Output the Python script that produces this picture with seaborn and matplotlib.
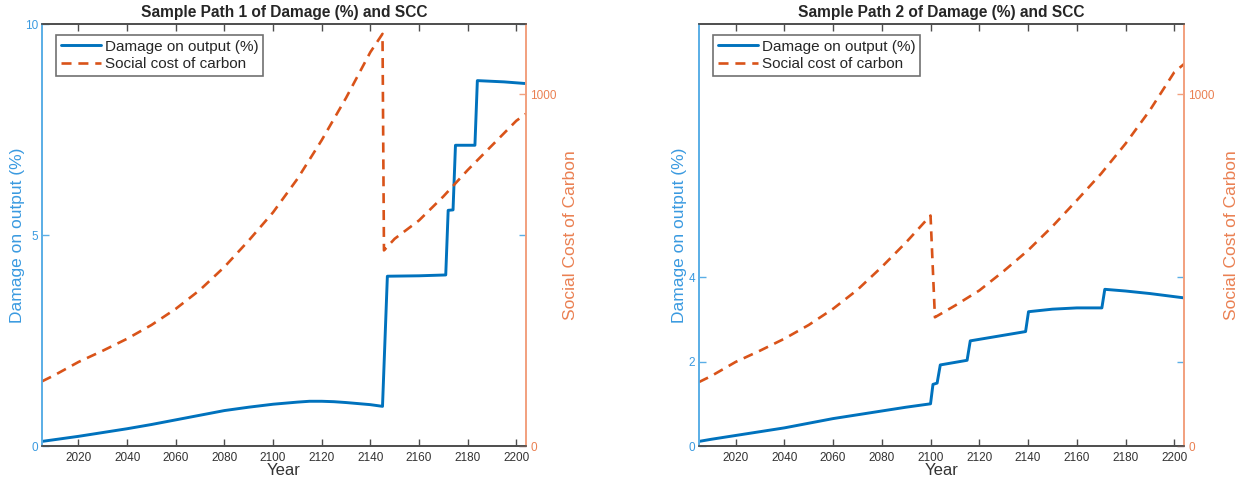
import matplotlib
matplotlib.use("Agg")
import matplotlib.pyplot as plt
import seaborn as sns
import pandas as pd

sns.set_style("ticks")
plt.rcParams['font.family'] = ['Liberation Sans', 'DejaVu Sans']

# ---------------- data ----------------
# Sample path 1
p1_dmg_years = [2005, 2010, 2020, 2030, 2040, 2050, 2060, 2070, 2080, 2090, 2100, 2110,
                2115, 2120, 2125, 2130, 2140, 2145, 2147, 2160, 2171, 2172, 2174, 2175,
                2183, 2184, 2195, 2204]
p1_dmg = [0.12, 0.16, 0.24, 0.33, 0.42, 0.52, 0.63, 0.74, 0.85, 0.93, 1.00, 1.05,
          1.07, 1.07, 1.06, 1.04, 0.99, 0.95, 4.03, 4.04, 4.06, 5.59, 5.60, 7.13,
          7.13, 8.66, 8.63, 8.59]
p1_scc_years = [2005, 2010, 2020, 2030, 2040, 2050, 2060, 2070, 2080, 2090, 2100, 2110,
                2120, 2130, 2140, 2145, 2145.6, 2150, 2160, 2170, 2180, 2190, 2200, 2204]
p1_scc = [185, 202, 240, 272, 306, 345, 391, 445, 510, 585, 665, 760,
          870, 990, 1120, 1172, 557, 590, 642, 710, 785, 855, 925, 945]

# Sample path 2
p2_dmg_years = [2005, 2010, 2020, 2030, 2040, 2050, 2060, 2070, 2080, 2090, 2100, 2101,
                2102.7, 2104, 2115, 2116.3, 2139, 2140.2, 2150, 2160, 2170.3, 2171.5,
                2180, 2190, 2205]
p2_dmg = [0.12, 0.17, 0.26, 0.35, 0.44, 0.55, 0.66, 0.75, 0.84, 0.93, 1.01, 1.47,
          1.50, 1.93, 2.04, 2.50, 2.72, 3.19, 3.25, 3.28, 3.28, 3.72,
          3.68, 3.62, 3.51]
p2_scc_years = [2005, 2010, 2020, 2030, 2040, 2050, 2060, 2070, 2080, 2090, 2100, 2101.8,
                2110, 2120, 2130, 2140, 2150, 2160, 2170, 2180, 2190, 2200, 2205]
p2_scc = [183, 200, 240, 272, 306, 345, 391, 445, 510, 580, 656, 367,
          400, 443, 498, 557, 625, 699, 775, 860, 955, 1063, 1092]

titles = ["Sample Path 1 of Damage (%) and SCC", "Sample Path 2 of Damage (%) and SCC"]
left_ticks = [[0, 5, 10], [0, 2, 4]]
right_ticks = [0, 1000]
x_ticks = [2020, 2040, 2060, 2080, 2100, 2120, 2140, 2160, 2180, 2200]

BLUE = "#0072BD"
ORANGE = "#D95319"
BLUE_AX = "#5AAEE6"
BLUE_TXT = "#3A9AE0"
ORANGE_AX = "#F2A07E"
ORANGE_TXT = "#EA8052"
GRAY = "#4D4D4D"

fig = plt.figure(figsize=(12.39, 4.82), dpi=100)
boxes = [[42 / 1239, 0.0737, (526 - 42) / 1239, 0.8765],
         [699 / 1239, 0.0737, (1184 - 699) / 1239, 0.8765]]
left_label_x = [-0.035, -0.025]
right_label_x = [1.076, 1.082]

paths = [(p1_dmg_years, p1_dmg, p1_scc_years, p1_scc),
         (p2_dmg_years, p2_dmg, p2_scc_years, p2_scc)]

for i, (dy, dv, sy, sv) in enumerate(paths):
    ax = fig.add_axes(boxes[i])
    ax2 = ax.twinx()
    ax.set_facecolor("white")
    d1 = pd.DataFrame({"Year": dy, "Damage": dv})
    d2 = pd.DataFrame({"Year": sy, "SCC": sv})
    sns.lineplot(data=d1, x="Year", y="Damage", ax=ax, color=BLUE, lw=2.1,
                 sort=False, estimator=None, label="Damage on output (%)", legend=False)
    sns.lineplot(data=d2, x="Year", y="SCC", ax=ax2, color=ORANGE, lw=1.9,
                 sort=False, estimator=None, label="Social cost of carbon", legend=False)
    ax2.lines[0].set_dashes([3.8, 2.6])

    ax.set_xlim(2005, 2204)
    ax.set_ylim(0, 10)
    ax2.set_ylim(0, 1200)
    ax.set_xticks(x_ticks)
    ax.set_yticks(left_ticks[i])
    ax2.set_yticks(right_ticks)

    # spines
    for a in (ax, ax2):
        a.spines['top'].set_visible(True)
        a.spines['top'].set_color(GRAY)
        a.spines['bottom'].set_color(GRAY)
        a.spines['left'].set_color(BLUE_AX)
        a.spines['right'].set_color(ORANGE_AX)
        for s in a.spines.values():
            s.set_linewidth(1.2)

    ax.tick_params(axis='x', direction='in', length=5, top=True, colors=GRAY,
                   labelsize=8.5, pad=4, width=1.0)
    ax.tick_params(axis='x', labelcolor="#333333")
    ax.tick_params(axis='y', direction='in', length=5, left=True, right=True,
                   colors=BLUE_AX, labelcolor=BLUE_TXT, labelsize=8.5, pad=3, width=1.0)
    ax2.tick_params(axis='y', direction='in', length=5, right=True, left=False,
                    colors=ORANGE_AX, labelcolor=ORANGE_TXT, labelsize=8.5, pad=3, width=1.0)

    ax.set_xlabel("Year", fontsize=12, color="#333333", labelpad=-1)
    ax.set_ylabel("Damage on output (%)", fontsize=12.5, color=BLUE_TXT)
    ax2.set_ylabel("Social Cost of Carbon", fontsize=12.5, color=ORANGE_TXT)
    ax.yaxis.set_label_coords(left_label_x[i], 0.5)
    ax2.yaxis.set_label_coords(right_label_x[i], 0.5)
    ax.set_title(titles[i], fontsize=11.2, fontweight="bold", pad=5)

    h1, l1 = ax.get_legend_handles_labels()
    h2, l2 = ax2.get_legend_handles_labels()
    leg = ax2.legend(h1 + h2, l1 + l2, loc="upper left", bbox_to_anchor=(0.02, 0.985),
                     fontsize=11, frameon=True, fancybox=False, edgecolor=GRAY,
                     borderpad=0.3, labelspacing=0.25, handlelength=2.6,
                     handletextpad=0.3, borderaxespad=0.3)
    leg.get_frame().set_linewidth(1.2)

fig.savefig("out.png", dpi=100, facecolor="white")
